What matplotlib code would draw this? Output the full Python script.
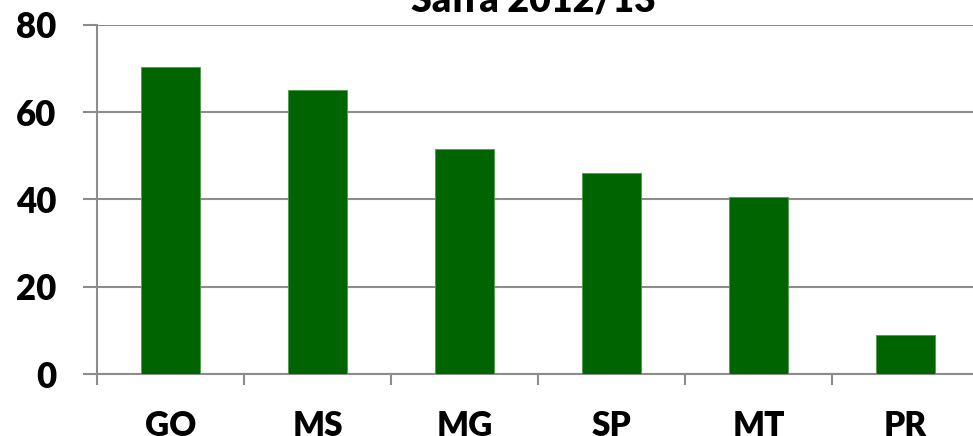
import matplotlib
matplotlib.use("Agg")
import matplotlib.pyplot as plt
import numpy as np

# data
states = ["GO", "MS", "MG", "SP", "MT", "PR"]
values = [70.4, 65.2, 51.6, 46.0, 40.5, 8.9]
yticks = [0, 20, 40, 60, 80]

plt.rcParams['font.family'] = ['Lato', 'DejaVu Sans']
plt.rcParams['font.weight'] = 'heavy'

grey = '#8c8c8c'

fig = plt.figure(figsize=(9.73, 4.36), dpi=100)
ax = fig.add_axes([0.0997, 0.1422, 0.9063, 0.8005])

x = np.arange(len(states))
ax.bar(x, values, width=0.4, color='#006400', edgecolor='#4f9a4f', linewidth=0.6, zorder=3)

ax.set_xlim(-0.5, len(states) - 0.5)
ax.set_ylim(0, 80)

# category boundaries get the ticks, centers get the labels
ax.set_xticks(np.arange(-0.5, len(states)), labels=[''] * (len(states) + 1))
ax.set_xticks(x, labels=states, minor=True)
ax.tick_params(axis='x', which='major', length=8, width=1.5, color=grey, direction='out')
ax.tick_params(axis='x', which='minor', length=0, pad=26, labelsize=24)

ax.set_yticks(yticks)
ax.tick_params(axis='y', length=10, width=1.5, color=grey, pad=19, labelsize=25)
ax.yaxis.grid(True, color=grey, linewidth=1.5, zorder=0)

for s in ['top', 'right']:
    ax.spines[s].set_visible(False)
for s in ['left', 'bottom']:
    ax.spines[s].set_color(grey)
    ax.spines[s].set_linewidth(1.5)

fig.text(0.548, 0.9725, "Safra 2012/13", ha='center', va='baseline', fontsize=27, fontweight='heavy')

fig.savefig("out.png", dpi=100)
